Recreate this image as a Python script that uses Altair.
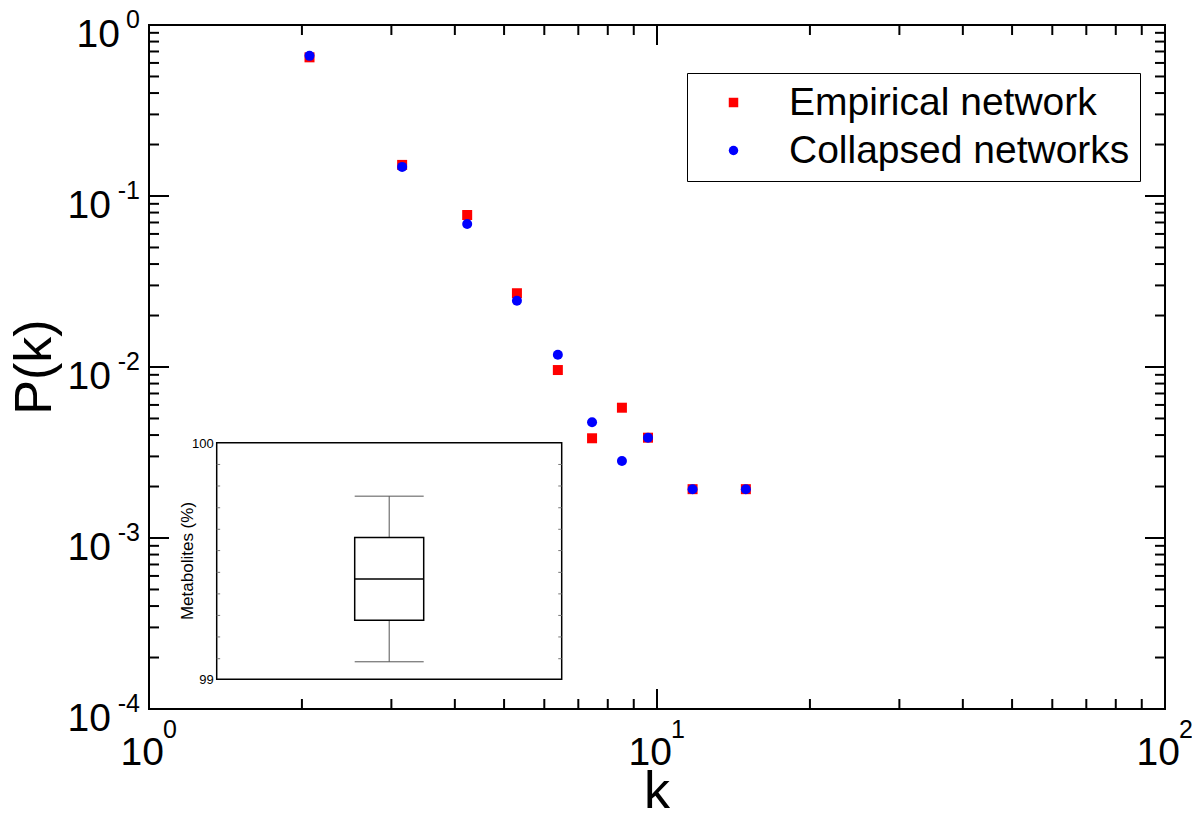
import altair as alt
import pandas as pd

FONT = "Liberation Sans"

# ---------------- data ----------------
k_values = [2.07, 3.15, 4.23, 5.30, 6.38, 7.45, 8.53, 9.60, 11.75, 14.96]
empirical = [0.647, 0.152, 0.0774, 0.0270, 0.0096, 0.00383, 0.00578, 0.00386, 0.00193, 0.00193]
collapsed = [0.66, 0.148, 0.0686, 0.0244, 0.0118, 0.00475, 0.00282, 0.00386, 0.00193, 0.00193]
series_names = ["Empirical network", "Collapsed networks"]
series_colors = ["#ff0000", "#0000ff"]
series_shapes = ["square", "circle"]

x_major = [1, 10, 100]
x_exps = ["0", "1", "2"]
x_minor = [2, 3, 4, 5, 6, 7, 8, 9, 20, 30, 40, 50, 60, 70, 80, 90]
y_major = [1, 0.1, 0.01, 0.001, 0.0001]
y_exps = ["0", "-1", "-2", "-3", "-4"]
y_minor = [m * 10.0 ** e for e in range(-4, 0) for m in range(2, 10)]

# inset box plot (Metabolites %)
inset_low = 99.074
inset_q1 = 99.250
inset_median = 99.424
inset_q3 = 99.599
inset_high = 99.774
inset_domain = [99, 100]
inset_labels = ["99", "100"]
inset_minor = [99.087, 99.179, 99.270, 99.361, 99.452, 99.544, 99.634, 99.725, 99.817, 99.908]

W, H = 1016, 684

pts = pd.DataFrame({
    "k": k_values * 2,
    "p": empirical + collapsed,
    "series": [series_names[0]] * len(k_values) + [series_names[1]] * len(k_values),
})

xs = alt.Scale(type="log", domain=[1, 100], nice=False)
ys = alt.Scale(type="log", domain=[1e-4, 1], nice=False)

def xq(f):
    return alt.X(f, type="quantitative", scale=xs, axis=None)

def yq(f):
    return alt.Y(f, type="quantitative", scale=ys, axis=None)

legend = alt.Legend(
    title=None, orient="none", legendX=538, legendY=48,
    strokeColor="black", fillColor="white", padding=10,
    labelFont=FONT, labelFontSize=39, labelColor="black", labelLimit=2000,
    symbolSize=90, symbolOffset=17, labelOffset=36, rowPadding=8,
    symbolStrokeWidth=0,
)

points = alt.Chart(pts).mark_point(filled=True, size=100, opacity=1).encode(
    x=xq("k"), y=yq("p"),
    color=alt.Color("series:N", scale=alt.Scale(domain=series_names, range=series_colors), legend=legend),
    shape=alt.Shape("series:N", scale=alt.Scale(domain=series_names, range=series_shapes), legend=legend),
    order=alt.Order("series:N", sort="descending"),
)

dxmaj = pd.DataFrame({"v": x_major, "e": x_exps})
dxmin = pd.DataFrame({"v": x_minor})
dymaj = pd.DataFrame({"v": y_major, "e": y_exps})
dymin = pd.DataFrame({"v": y_minor})

layers = []

# main frame
mframe = pd.DataFrame({"x0": [1], "x1": [100], "y0": [1e-4], "y1": [1]})
layers.append(alt.Chart(mframe).mark_rect(fill=None, stroke="black", strokeWidth=2).encode(
    x=xq("x0"), x2="x1", y=yq("y0"), y2="y1"))

for df, L in ((dxmaj, 20), (dxmin, 10)):
    layers.append(alt.Chart(df).mark_rule(color="black", strokeWidth=2).encode(
        x=xq("v"), y=alt.value(H), y2=alt.value(H - L)))
    layers.append(alt.Chart(df).mark_rule(color="black", strokeWidth=2).encode(
        x=xq("v"), y=alt.value(0), y2=alt.value(L)))
for df, L in ((dymaj, 20), (dymin, 10)):
    layers.append(alt.Chart(df).mark_rule(color="black", strokeWidth=2).encode(
        y=yq("v"), x=alt.value(0), x2=alt.value(L)))
    layers.append(alt.Chart(df).mark_rule(color="black", strokeWidth=2).encode(
        y=yq("v"), x=alt.value(W), x2=alt.value(W - L)))

# tick labels with superscripts
layers.append(alt.Chart(dxmaj).mark_text(text="10", font=FONT, fontSize=39, align="right",
                                         baseline="alphabetic", dx=15, color="black").encode(
    x=xq("v"), y=alt.value(H + 56)))
layers.append(alt.Chart(dxmaj).mark_text(font=FONT, fontSize=25, align="left",
                                         baseline="alphabetic", dx=14, color="black").encode(
    x=xq("v"), y=alt.value(H + 29), text="e:N"))
layers.append(alt.Chart(dymaj).transform_calculate(px="-20 - 9 * length(datum.e)").mark_text(
    text="10", font=FONT, fontSize=39, align="right", baseline="alphabetic", dy=22, color="black").encode(
    x=alt.X("px:Q", scale=None), y=yq("v")))
layers.append(alt.Chart(dymaj).mark_text(font=FONT, fontSize=25, align="right",
                                         baseline="alphabetic", dy=3, color="black").encode(
    x=alt.value(-9), y=yq("v"), text="e:N"))

# axis titles
layers.append(alt.Chart(pd.DataFrame({"t": ["P(k)"]})).mark_text(
    font=FONT, fontSize=52, angle=270, align="center", baseline="alphabetic", color="black").encode(
    x=alt.value(-98), y=alt.value(342), text="t:N"))
layers.append(alt.Chart(pd.DataFrame({"t": ["k"]})).mark_text(
    font=FONT, fontSize=52, align="center", baseline="alphabetic", color="black").encode(
    x=alt.value(W / 2), y=alt.value(783), text="t:N"))

layers.append(points)

# ---------------- inset ----------------
ixs = alt.Scale(domain=[0, 2], range=[67.7, 412.7], nice=False, zero=False)
iys = alt.Scale(domain=inset_domain, range=[654.3, 417.7], nice=False, zero=False)

def ix(f):
    return alt.X(f, type="quantitative", scale=ixs, axis=None)

def iy(f):
    return alt.Y(f, type="quantitative", scale=iys, axis=None)

frame = pd.DataFrame({"x0": [0], "x1": [2], "y0": [inset_domain[0]], "y1": [inset_domain[1]]})
layers.append(alt.Chart(frame).mark_rect(fill="white", stroke="black", strokeWidth=1.5).encode(
    x=ix("x0"), x2="x1", y=iy("y0"), y2="y1"))

dmin = pd.DataFrame({"v": inset_minor, "a": 0.0, "b": 0.02, "c": 2.0, "d": 1.98})
layers.append(alt.Chart(dmin).mark_rule(color="#777777", strokeWidth=1).encode(
    x=ix("a"), x2="b", y=iy("v")))
layers.append(alt.Chart(dmin).mark_rule(color="#777777", strokeWidth=1).encode(
    x=ix("c"), x2="d", y=iy("v")))

box = pd.DataFrame({"c": [1.0], "l": [0.8], "r": [1.2], "low": [inset_low], "q1": [inset_q1],
                    "med": [inset_median], "q3": [inset_q3], "high": [inset_high]})
layers.append(alt.Chart(box).mark_rule(color="#555555", strokeWidth=1).encode(
    x=ix("c"), y=iy("low"), y2="q1"))
layers.append(alt.Chart(box).mark_rule(color="#555555", strokeWidth=1).encode(
    x=ix("c"), y=iy("q3"), y2="high"))
layers.append(alt.Chart(box).mark_rule(color="#555555", strokeWidth=1).encode(
    x=ix("l"), x2="r", y=iy("low")))
layers.append(alt.Chart(box).mark_rule(color="#555555", strokeWidth=1).encode(
    x=ix("l"), x2="r", y=iy("high")))
layers.append(alt.Chart(box).mark_rect(fill="white", stroke="black", strokeWidth=1.5).encode(
    x=ix("l"), x2="r", y=iy("q1"), y2="q3"))
layers.append(alt.Chart(box).mark_rule(color="black", strokeWidth=1.5).encode(
    x=ix("l"), x2="r", y=iy("med")))

dlab = pd.DataFrame({"v": inset_domain, "t": inset_labels, "z": 0.0})
layers.append(alt.Chart(dlab).mark_text(font=FONT, fontSize=13, align="right", baseline="middle",
                                        dx=-3, dy=1, color="black").encode(
    x=ix("z"), y=iy("v"), text="t:N"))
layers.append(alt.Chart(pd.DataFrame({"t": ["Metabolites (%)"], "v": [99.5]})).mark_text(
    font=FONT, fontSize=17, angle=270, align="center", baseline="alphabetic", color="black").encode(
    x=alt.value(44), y=iy("v"), text="t:N"))

chart = alt.layer(*layers).resolve_scale(
    x="independent", y="independent", color="shared", shape="shared"
).properties(
    width=W, height=H,
    padding={"left": 141, "top": 17, "right": 27, "bottom": 101},
    autosize=alt.AutoSizeParams(type="none"),
).configure_view(stroke=None).configure(font=FONT)

chart.save("out.html", embed_options={"renderer": "svg", "actions": False})
